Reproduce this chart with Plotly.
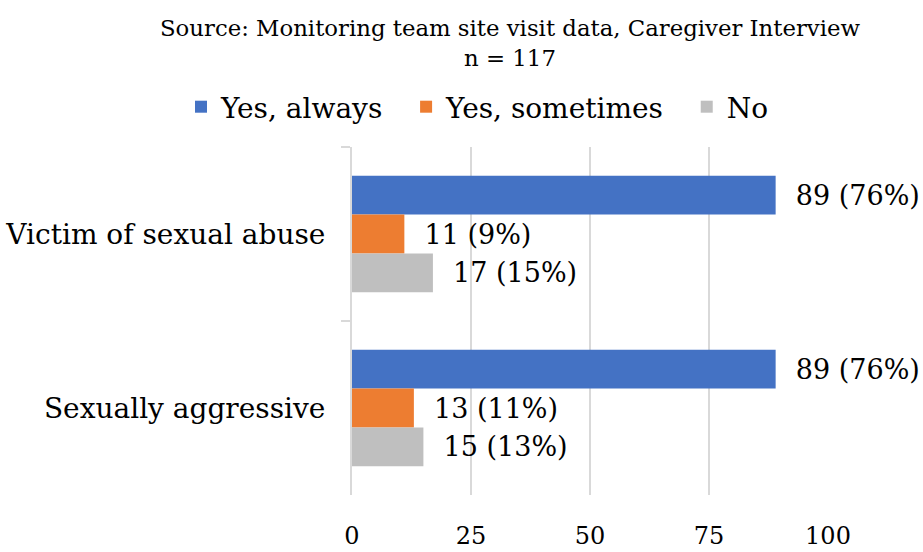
import plotly.graph_objects as go

categories = ["Victim of sexual abuse", "Sexually aggressive"]
series_names = ["Yes, always", "Yes, sometimes", "No"]
yes_always = [89, 89]
yes_sometimes = [11, 13]
no_answer = [17, 15]
pct_always = [76, 76]
pct_sometimes = [9, 11]
pct_no = [15, 13]
x_ticks = [0, 25, 50, 75, 100]
title_lines = ["Source: Monitoring team site visit data, Caregiver Interview", "n = 117"]

colors = ["#4472C4", "#ED7D31", "#BFBFBF"]
FONT = "DejaVu Serif"
W, H = 923, 552

fig = go.Figure()

for name, vals, pcts, color in zip(
    series_names,
    [yes_always, yes_sometimes, no_answer],
    [pct_always, pct_sometimes, pct_no],
    colors,
):
    fig.add_trace(
        go.Bar(
            y=categories,
            x=vals,
            orientation="h",
            name=name + "\u00a0\u00a0",
            marker=dict(color=color, line=dict(width=0)),
            text=["\u00a0\u00a0%d (%d%%)" % (v, p) for v, p in zip(vals, pcts)],
            textposition="outside",
            textfont=dict(family=FONT, size=27, color="black"),
            cliponaxis=False,
        )
    )

# title (two centred lines)
fig.add_annotation(
    text="<br>".join(title_lines),
    x=510 / W,
    y=1 - 13 / H,
    xref="paper",
    yref="paper",
    xanchor="center",
    yanchor="top",
    showarrow=False,
    font=dict(family=FONT, size=22.8, color="black"),
)

fig.update_layout(
    width=W,
    height=H,
    barmode="group",
    bargap=0.33,
    bargroupgap=0,
    plot_bgcolor="white",
    paper_bgcolor="white",
    font=dict(family=FONT, color="black"),
    margin=dict(l=0, r=0, t=0, b=0, autoexpand=False),
    legend=dict(
        orientation="h",
        x=486 / W,
        xanchor="center",
        y=1 - 107 / H,
        yanchor="middle",
        traceorder="normal",
        font=dict(family=FONT, size=28, color="black"),
        itemwidth=30,
    ),
    showlegend=True,
)

fig.update_xaxes(
    domain=[352 / W, 828 / W],
    range=[0, 100],
    tickvals=x_ticks,
    showgrid=True,
    gridcolor="#D9D9D9",
    gridwidth=2,
    zeroline=False,
    showline=False,
    ticks="",
    ticklabelstandoff=24,
    automargin=False,
    tickfont=dict(family=FONT, size=24, color="black"),
)

fig.update_yaxes(
    domain=[1 - 495 / H, 1 - 147 / H],
    autorange="reversed",
    showline=True,
    linecolor="#D9D9D9",
    linewidth=2,
    ticks="outside",
    tickson="boundaries",
    ticklen=9,
    tickwidth=2,
    tickcolor="#D9D9D9",
    showgrid=False,
    ticklabelstandoff=19,
    automargin=False,
    tickfont=dict(family=FONT, size=28, color="black"),
)

# the page body has a default 8px margin; remove it so the figure sits at 0,0
fig.write_html(
    "out.html",
    config={"displayModeBar": False},
    post_script="document.body.style.margin='0';",
)
